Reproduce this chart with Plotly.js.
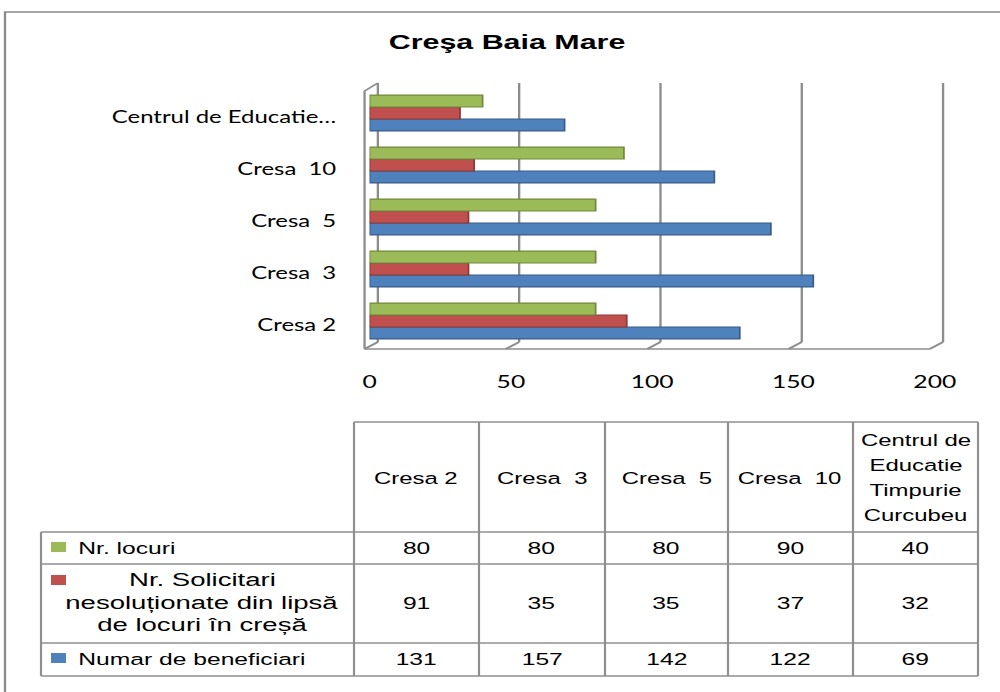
<!DOCTYPE html>
<html>
<head>
<meta charset="utf-8">
<script src="https://cdn.plot.ly/plotly-3.0.1.min.js"></script>
<style>
  html, body { margin: 0; padding: 0; background: #ffffff; overflow: hidden; }
  #wrap { width: 1000px; height: 692px; overflow: hidden; position: relative; }
  #plot { width: 690px; height: 692px; transform-origin: 0 0; position: absolute; left: 0; top: 0; }
</style>
</head>
<body>
<div id="wrap"><div id="plot"></div></div>
<script>
// ---- data ----
const categories = ['Cresa 2', 'Cresa  3', 'Cresa  5', 'Cresa  10', 'Centrul de Educatie Timpurie Curcubeu'];
const axisLabels = ['Cresa 2', 'Cresa  3', 'Cresa  5', 'Cresa  10', 'Centrul de Educatie…'];
const headerLabels = ['Cresa 2', 'Cresa  3', 'Cresa  5', 'Cresa  10', 'Centrul de<br>Educatie<br>Timpurie<br>Curcubeu'];
const nrLocuri = [80, 80, 80, 90, 40];
const nrSolicitari = [91, 35, 35, 37, 32];
const beneficiari = [131, 157, 142, 122, 69];
const seriesNames = ['Nr. locuri', 'Nr. Solicitari<br>nesoluționate din lipsă<br>de locuri în creșă', 'Numar de beneficiari'];
const xTicks = [0, 50, 100, 150, 200];
const titleText = 'Creşa Baia Mare';

// ---- styles ----
const colors = { green: '#9BBB59', red: '#C0504D', blue: '#4F81BD' };
const edges = { green: '#71893F', red: '#8C3836', blue: '#385D8A' };
const W = 690, H = 692, S = 1000 / W;
document.getElementById('plot').style.transform = 'scaleX(' + S + ')';
const M = { l: 255, r: 45, t: 87, b: 345 };
const Wp = W - M.l - M.r, Hp = H - M.t - M.b;
const plotBottom = H - M.b;
const nb = s => s.replace(/  /g, ' \u00a0');
const rx = v => v / S;                         // real px -> virtual px
const px = xv => (xv - M.l) / Wp;              // virtual px -> paper x
const py = y => (plotBottom - y) / Hp;         // px -> paper y

const labelFont = { family: 'Lato, "Open Sans", sans-serif', size: 16.5, color: '#000' };
const tickFont = { family: 'Lato, "Open Sans", sans-serif', size: 17, color: '#000' };
const tableFont = { family: '"Liberation Sans", Arial, sans-serif', size: 17, color: '#000' };

// ---- bars ----
const traces = [
  { name: 'Numar de beneficiari', vals: beneficiari, c: 'blue' },
  { name: 'Nr. Solicitari', vals: nrSolicitari, c: 'red' },
  { name: 'Nr. locuri', vals: nrLocuri, c: 'green' }
].map(s => ({
  type: 'bar', orientation: 'h', name: s.name,
  x: s.vals, y: categories,
  marker: { color: colors[s.c], line: { color: edges[s.c], width: 1.2 } },
  hoverinfo: 'skip'
}));

// ---- walls (3-D frame) ----
const shapes = [];
const gray = '#8c8c8c';
const line = (x0, y0, x1, y1, c, w) => shapes.push({ type: 'line', xref: 'paper', yref: 'paper',
  x0, y0, x1, y1, line: { color: c || gray, width: w || 1.6 }, layer: 'below' });
const bx = rx(8.3) / Wp, fx = -rx(5) / Wp;
const yBackB = py(342), yBackT = py(83), yFrontB = py(349), yFrontT = py(91);
xTicks.forEach(v => {
  const xp = v / 200;
  line(xp + bx, yBackB, xp + bx, yBackT);
  line(xp + bx, yBackB, xp + fx, yFrontB);
});
line(fx, yFrontB, 1 + fx, yFrontB);
line(fx, yFrontT, fx, yFrontB);
line(fx, yFrontT, bx, yBackT);

// ---- outer frame ----
shapes.push({ type: 'rect', xref: 'paper', yref: 'paper', x0: px(rx(5)), x1: px(rx(1012)), y0: py(12), y1: py(705),
  line: { color: '#8a8a8a', width: 1.6 }, layer: 'below' });

// ---- data table ----
const colX = [41, 354, 479, 605, 728, 853, 978].map(rx);
const rowY = [422, 532, 564, 643, 676];
const tgray = '#8f8f8f';
const tl = (x0, y0, x1, y1) => shapes.push({ type: 'line', xref: 'paper', yref: 'paper',
  x0: px(x0), y0: py(y0), x1: px(x1), y1: py(y1), line: { color: tgray, width: 1.5 } });
tl(colX[1], rowY[0], colX[6], rowY[0]);
for (let i = 1; i < rowY.length; i++) tl(colX[0], rowY[i], colX[6], rowY[i]);
tl(colX[0], rowY[1], colX[0], rowY[4]);
for (let j = 1; j < colX.length; j++) tl(colX[j], rowY[0], colX[j], rowY[4]);

const annotations = [];
const ann = (x, y, text, xanchor, font) => annotations.push({ xref: 'paper', yref: 'paper',
  x: px(x), y: py(y), text, xanchor: xanchor || 'center', yanchor: 'middle', showarrow: false,
  font: font || tableFont, align: 'center' });
// multi-line text with explicit line pitch
const annLines = (x, yc, text, pitch, xanchor, font) => {
  const parts = text.split('<br>');
  parts.forEach((p, k) => ann(x, yc + (k - (parts.length - 1) / 2) * pitch, nb(p), xanchor, font));
};

const rowCenters = [548, 603.5, 659.5];
const rowSeries = [nrLocuri, nrSolicitari, beneficiari];
const rowColors = ['green', 'red', 'blue'];
const squareY = [547, 580, 658];
headerLabels.forEach((h, j) => {
  const cx = (colX[j + 1] + colX[j + 2]) / 2;
  annLines(cx, 477.5, h, 25, 'center', Object.assign({}, tableFont, { size: 16.5 }));
  rowSeries.forEach((arr, r) => ann(cx, rowCenters[r], String(arr[j])));
});
// row headers with legend keys
rowColors.forEach((c, r) => {
  shapes.push({ type: 'rect', xref: 'paper', yref: 'paper',
    x0: px(rx(51)), x1: px(rx(66)), y0: py(squareY[r] - 5), y1: py(squareY[r] + 5),
    fillcolor: colors[c], line: { width: 0 } });
});
ann(rx(75), rowCenters[0], seriesNames[0], 'left');
annLines((colX[0] + colX[1]) / 2 + rx(4), 602, seriesNames[1], 23, 'center', Object.assign({}, tableFont, { size: 19 }));
ann(rx(75), rowCenters[2], seriesNames[2], 'left');

const layout = {
  width: W, height: H, margin: M,
  paper_bgcolor: '#ffffff', plot_bgcolor: 'rgba(0,0,0,0)',
  showlegend: false, barmode: 'group', bargap: 0.31, bargroupgap: 0,
  title: { text: titleText, xref: 'container', yref: 'container', x: 0.507, xanchor: 'center',
    y: 1 - 42 / H, yanchor: 'middle',
    font: { family: '"Liberation Sans", Arial, sans-serif', size: 21, color: '#000', weight: 'bold' } },
  xaxis: { range: [0, 200], tickvals: xTicks, showgrid: false, zeroline: false, showline: false,
    ticks: '', tickfont: tickFont, ticklabelstandoff: 23, fixedrange: true },
  yaxis: { type: 'category', tickvals: categories, ticktext: axisLabels.map(nb), range: [-0.5, 4.5],
    showgrid: false, zeroline: false, showline: false, ticks: '', tickfont: labelFont,
    ticklabelstandoff: 22, ticklabelshift: 4, fixedrange: true },
  shapes, annotations
};
Plotly.newPlot('plot', traces, layout, { staticPlot: true, displayModeBar: false });
</script>
</body>
</html>
